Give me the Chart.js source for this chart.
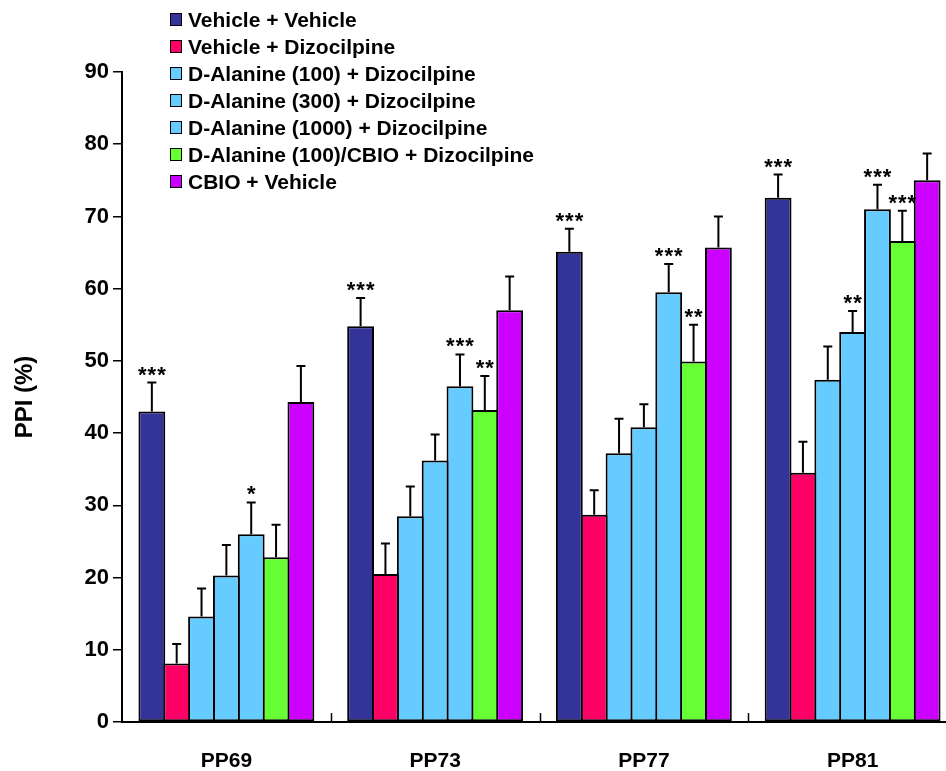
<!DOCTYPE html>
<html>
<head>
<meta charset="utf-8">
<script src="https://cdn.jsdelivr.net/npm/chart.js@4.4.1/dist/chart.umd.min.js"></script>
<style>
  html, body { margin: 0; padding: 0; background: #fff; overflow: hidden; }
  #wrap { position: relative; width: 960px; height: 771px; }
  #legend { position: absolute; left: 170px; top: 6px; font-family: "Liberation Sans", Arial, sans-serif; font-weight: bold; font-size: 21px; color: #000; }
  #legend .row { height: 27px; display: flex; align-items: center; }
  #legend .box { width: 10px; height: 11px; border: 1.5px solid #000; margin-right: 6px; }
</style>
</head>
<body>
<div id="wrap">
  <canvas id="ppiChart"></canvas>
  <div id="legend"></div>
</div>
<script>
// categories
const categories = ['PP69', 'PP73', 'PP77', 'PP81'];

// series (mean PPI %) and upper error bars (SEM)
const vehVeh = [43.0, 54.8, 65.1, 72.6];
const vehVehErr = [4.0, 3.9, 3.2, 3.2];
const vehDiz = [8.1, 20.5, 28.7, 34.5];
const vehDizErr = [2.7, 4.2, 3.4, 4.3];
const da100 = [14.6, 28.5, 37.2, 47.4];
const da100Err = [3.9, 4.1, 4.8, 4.6];
const da300 = [20.3, 36.2, 40.8, 54.0];
const da300Err = [4.2, 3.6, 3.2, 2.9];
const da1000 = [26.0, 46.5, 59.5, 71.0];
const da1000Err = [4.4, 4.4, 3.9, 3.4];
const daCbio = [22.8, 43.2, 49.9, 66.6];
const daCbioErr = [4.5, 4.7, 5.1, 4.2];
const cbioVeh = [44.3, 57.0, 65.7, 75.0];
const cbioVehErr = [5.0, 4.7, 4.3, 3.7];

// significance marks
const vehVehSig = ['***', '***', '***', '***'];
const da300Sig = ['', '', '', '**'];
const da1000Sig = ['*', '***', '***', '***'];
const daCbioSig = ['', '**', '**', '***'];

const yTicks = [0, 10, 20, 30, 40, 50, 60, 70, 80, 90];

const series = [
  { label: 'Vehicle + Vehicle', data: vehVeh, err: vehVehErr, sig: vehVehSig, color: '#333399' },
  { label: 'Vehicle + Dizocilpine', data: vehDiz, err: vehDizErr, sig: null, color: '#FF0066' },
  { label: 'D-Alanine (100) + Dizocilpine', data: da100, err: da100Err, sig: null, color: '#66CCFF' },
  { label: 'D-Alanine (300) + Dizocilpine', data: da300, err: da300Err, sig: da300Sig, color: '#66CCFF' },
  { label: 'D-Alanine (1000) + Dizocilpine', data: da1000, err: da1000Err, sig: da1000Sig, color: '#66CCFF' },
  { label: 'D-Alanine (100)/CBIO + Dizocilpine', data: daCbio, err: daCbioErr, sig: daCbioSig, color: '#66FF33' },
  { label: 'CBIO + Vehicle', data: cbioVeh, err: cbioVehErr, sig: null, color: '#CC00FF' }
];

// legend as html
const legendEl = document.getElementById('legend');
series.forEach(s => {
  legendEl.insertAdjacentHTML('beforeend',
    `<div class="row"><span class="box" style="background:${s.color}"></span><span>${s.label}</span></div>`);
});

const FONT = '"Liberation Sans", Arial, sans-serif';

// error bars + stars + inner category ticks
const extras = {
  id: 'extras',
  afterDatasetsDraw(chart) {
    const ctx = chart.ctx;
    const y = chart.scales.y;
    const x = chart.scales.x;
    ctx.save();
    ctx.strokeStyle = '#000';
    ctx.lineWidth = 2;
    series.forEach((s, di) => {
      const meta = chart.getDatasetMeta(di);
      meta.data.forEach((bar, i) => {
        const yTop = y.getPixelForValue(s.data[i] + s.err[i]);
        ctx.beginPath();
        ctx.moveTo(bar.x, bar.y);
        ctx.lineTo(bar.x, yTop);
        ctx.moveTo(bar.x - 4.5, yTop);
        ctx.lineTo(bar.x + 4.5, yTop);
        ctx.stroke();
        if (s.sig && s.sig[i]) {
          ctx.fillStyle = '#000';
          ctx.font = 'bold 22px ' + FONT;
          ctx.letterSpacing = '1px';
          ctx.textAlign = 'center';
          ctx.textBaseline = 'alphabetic';
          ctx.fillText(s.sig[i], bar.x + 0.5, yTop - 1);
          ctx.letterSpacing = '0px';
        }
      });
    });
    // small upward ticks between categories
    const half = (x.getPixelForValue(1) - x.getPixelForValue(0)) / 2;
    ctx.lineWidth = 1.5;
    for (let i = 1; i < categories.length; i++) {
      const px = Math.round(x.getPixelForValue(i) - half) + 0.5;
      ctx.beginPath();
      ctx.moveTo(px, y.bottom);
      ctx.lineTo(px, y.bottom - 9);
      ctx.stroke();
    }
    ctx.restore();
  }
};

new Chart(document.getElementById('ppiChart'), {
  type: 'bar',
  data: {
    labels: categories,
    datasets: series.map(s => ({
      label: s.label,
      data: s.data,
      backgroundColor: s.color,
      borderColor: '#000',
      borderWidth: 2,
      borderSkipped: false,
      categoryPercentage: 0.833,
      barPercentage: 1.08
    }))
  },
  options: {
    responsive: true,
    maintainAspectRatio: false,
    animation: false,
    layout: { padding: { top: 72, right: 3, left: 0, bottom: 0 } },
    plugins: {
      legend: { display: false },
      tooltip: { enabled: false }
    },
    scales: {
      x: {
        grid: { display: false },
        border: { display: true, color: '#000', width: 2 },
        ticks: { color: '#000', padding: 19, font: { family: FONT, size: 21, weight: 'bold' } },
        afterFit: s => { s.height = 49; }
      },
      y: {
        min: 0,
        max: 90,
        afterBuildTicks: s => { s.ticks = yTicks.map(v => ({ value: v })); },
        grid: { drawOnChartArea: false, drawTicks: true, tickLength: 9, color: '#000', lineWidth: 1.5 },
        border: { display: true, color: '#000', width: 2 },
        ticks: { color: '#000', padding: 4, font: { family: FONT, size: 22, weight: 'bold' } },
        title: { display: true, text: 'PPI (%)', color: '#000', padding: { top: 11, bottom: 0 }, font: { family: FONT, size: 24, weight: 'bold' } },
        afterFit: s => { s.width = 122; }
      }
    }
  },
  plugins: [extras]
});
</script>
</body>
</html>
